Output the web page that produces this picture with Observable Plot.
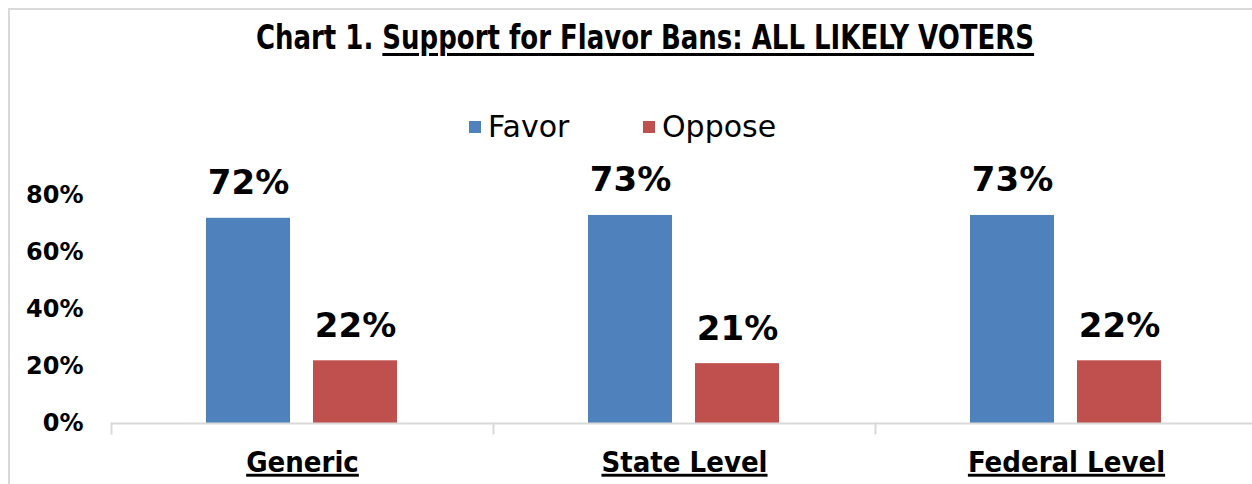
<!DOCTYPE html>
<html>
<head>
<meta charset="utf-8">
<script src="https://cdn.jsdelivr.net/npm/d3@7"></script>
<script src="https://cdn.jsdelivr.net/npm/@observablehq/plot@0.6"></script>
<style>
  html, body { margin: 0; padding: 0; background: #fff; }
  #wrap { position: relative; width: 1252px; height: 484px; overflow: hidden; background: #fff; }
  #border { position: absolute; left: 8px; top: 8px; width: 1300px; height: 600px; border: 2px solid #d9d9d9; box-sizing: border-box; }
  #title { position: absolute; top: 17px; left: 20px; width: 1250px; text-align: center;
           font-family: "DejaVu Sans Condensed", "DejaVu Sans", sans-serif; font-stretch: condensed; font-weight: bold; font-size: 34px; color: #000; line-height: 40px; white-space: nowrap;
           transform: scaleX(0.85); }
  #title .u { text-decoration: underline; text-decoration-thickness: 3px; text-underline-offset: 4px; }
  #legend { position: absolute; top: 110px; left: 0; width: 1252px; height: 34px;
            font-family: "DejaVu Sans", sans-serif; font-size: 30px; color: #000; }
  .item { position: absolute; top: 0; height: 34px; line-height: 34px; white-space: nowrap; }
  .sw { display: inline-block; width: 12px; height: 12px; margin-right: 7px; vertical-align: middle; position: relative; top: -2px; }
  #chart { position: absolute; top: 150px; left: 0; }
  #chart text.cat { text-decoration: underline; text-decoration-thickness: 3px; }
</style>
</head>
<body>
<div id="wrap">
  <div id="border"></div>
  <div id="title">Chart 1. <span class="u">Support for Flavor Bans: ALL LIKELY VOTERS</span></div>
  <div id="legend"></div>
  <div id="chart"></div>
</div>
<script>
const categories = ["Generic", "State Level", "Federal Level"];
const series = ["Favor", "Oppose"];
const favor = [72, 73, 73];
const oppose = [22, 21, 22];
const yTicks = [0, 20, 40, 60, 80];
const colors = ["#4F81BD", "#C0504D"];

const data = categories.flatMap((c, i) => [
  {category: c, series: "Favor", value: favor[i]},
  {category: c, series: "Oppose", value: oppose[i]}
]);

// legend
const legend = document.getElementById("legend");
const legendX = [469, 643];
series.forEach((s, i) => {
  const it = document.createElement("div");
  it.className = "item";
  it.style.left = legendX[i] + "px";
  const sw = document.createElement("span");
  sw.className = "sw";
  sw.style.background = colors[i];
  it.appendChild(sw);
  it.appendChild(document.createTextNode(s));
  legend.appendChild(it);
});

const chart = Plot.plot({
  width: 1252,
  height: 334,
  marginLeft: 110,
  marginRight: -6,
  marginTop: 45,
  marginBottom: 61,
  fx: {domain: categories, padding: 0, axis: null, label: null},
  x: {domain: series, paddingInner: 0.213, paddingOuter: 0.878, axis: null},
  y: {domain: [0, 80], axis: null},
  color: {domain: series, range: colors},
  marks: [
    Plot.barY(data, {fx: "category", x: "series", y: "value", fill: "series"}),
    Plot.ruleY([0], {stroke: "#d9d9d9", strokeWidth: 2}),
    Plot.frame({anchor: "left", stroke: "#d9d9d9", strokeWidth: 2, insetTop: 228, insetBottom: -10}),
    Plot.text(data, {fx: "category", x: "series", y: "value", text: d => d.value + "%", dy: -35,
      lineAnchor: "middle", fontSize: 34, fontWeight: "bold", fontFamily: "DejaVu Sans", fill: "#000"}),
    Plot.axisY(yTicks, {tickSize: 0, tickPadding: 28, tickFormat: d => d + "%", label: null,
      fontSize: 24, fontWeight: "bold", fontFamily: "DejaVu Sans", fill: "#000"}),
    Plot.text(categories, {fx: d => d, text: d => d, frameAnchor: "bottom", dy: 39, lineAnchor: "middle",
      fontSize: 29, fontWeight: "bold", fontFamily: "DejaVu Sans Condensed", fill: "#000"})
  ]
});
chart.querySelectorAll("text").forEach(t => {
  if (categories.includes(t.textContent)) {
    t.classList.add("cat");
    t.style.fontStretch = "condensed";
  }
});
document.getElementById("chart").appendChild(chart);
</script>
</body>
</html>
